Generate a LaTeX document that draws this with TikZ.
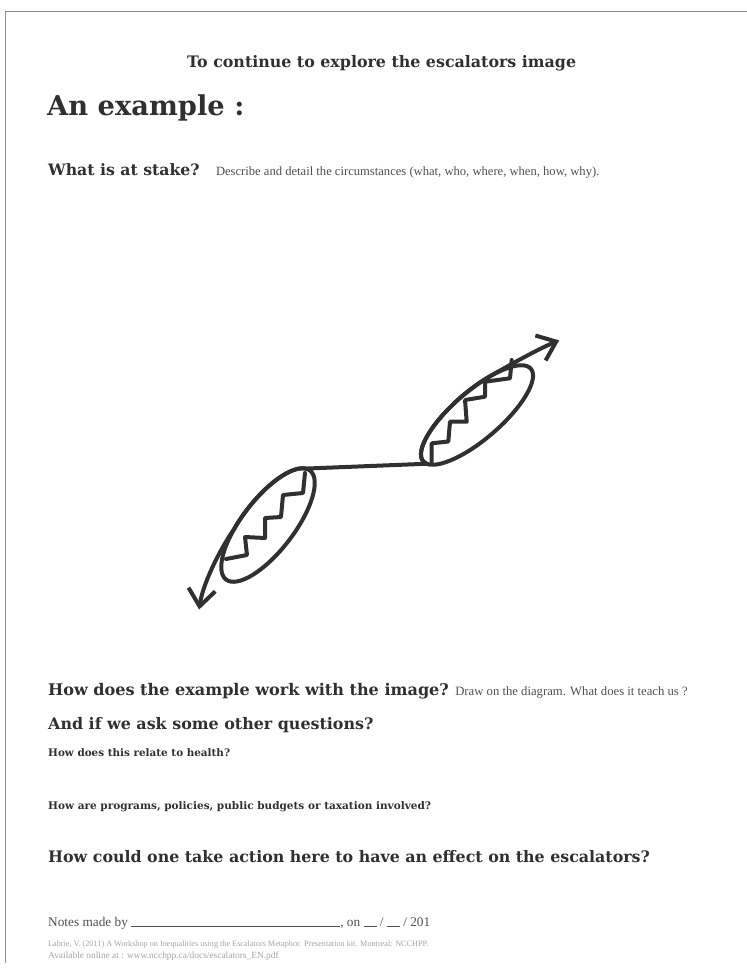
\documentclass[tikz,border=0pt]{standalone}
\usepackage{fontspec}
\setmainfont{DejaVu Serif}
\newfontfamily\lightfont{Liberation Serif}
\usepackage{tikz}
\usetikzlibrary{arrows.meta, positioning}
\definecolor{inkgray}{RGB}{48,48,48}
\definecolor{notegray}{RGB}{80,80,80}
\definecolor{creditgray}{RGB}{165,165,165}
\definecolor{framegray}{RGB}{140,140,140}
\tikzset{
  heading/.style={anchor=base west, inner sep=0pt, text=inkgray,
    font=\bfseries\fontsize{#1}{#1}\selectfont},
  plain/.style={anchor=base west, inner sep=0pt, text=notegray,
    font=\lightfont\fontsize{#1}{#1}\selectfont},
  credit/.style={anchor=base west, inner sep=0pt, text=creditgray,
    font=\lightfont\fontsize{#1}{#1}\selectfont},
  esc/.style={line width=4pt, draw=inkgray, line cap=round, line join=round},
  escarrow/.style={esc, -{Straight Barb[length=17pt, width=27pt]}},
}
\newcommand{\blank}[1]{\rule[-0.5pt]{#1}{0.8pt}}

\begin{document}
\begin{tikzpicture}[x=1pt, y=-1pt]
  \useasboundingbox (0,0) rectangle (747,975);
  \fill[white] (0,0) rectangle (747,975);
  % page frame
  \draw[framegray, line width=1pt] (5,963) |- (747,11);

  % --- textos superiores ---
  \node (title)   [heading=15.85] at (187,67)  {To continue to explore the escalators image};
  \node (example) [heading=27.3]  at (47,115)  {An example :};
  \node (stake)   [heading=15.7]  at (48,175)  {What is at stake?};
  \node (describe)[plain=12.6, base right=16pt of stake]
        {Describe and detail the circumstances (what, who, where, when, how, why).};

  % --- escalera de subida ---
  \begin{scope}[shift={(477,415)}, rotate=40.7]
    \draw[esc] (0,0) ellipse [x radius=71, y radius=24];
    \coordinate (upstart) at (170:71 and 24);
    \draw[escarrow] (upstart) arc[start angle=170, end angle=300, x radius=71, y radius=24]
      .. controls (58,-16.5) and (90,-10) .. (111,-3);
  \end{scope}
  \draw[esc] (431.7,461.7) -- (431.7,443.3) -- (448.3,441.5) -- (450,421.7) -- (466.7,421.7)
    -- (465,400) -- (485,396.7) -- (485,381.7) -- (510,378.3) -- (511.7,360);

  % --- escalera de bajada ---
  \begin{scope}[shift={(268,525)}, rotate=52.4]
    \draw[esc] (0,0) ellipse [x radius=68.8, y radius=26];
    \coordinate (lowstart) at (350:68.8 and 26);
    \draw[escarrow] (lowstart) arc[start angle=350, end angle=250, x radius=68.8, y radius=26]
      .. controls (-52,-23) and (-88,-15) .. (-109,-3);
  \end{scope}
  \draw[esc] (226,559) -- (247,555) -- (245,537) -- (265,538) -- (265,518) -- (281,517)
    -- (283,495) -- (303,493) -- (305,473);

  % tramo horizontal entre ambas
  \draw[esc] (lowstart) -- (upstart);

  % --- preguntas ---
  \node (work)    [heading=16.05] at (48,695) {How does the example work with the image?};
  \node (drawon)  [plain=12.7, base right=6pt of work] {Draw on the diagram. What does it teach us ?};
  \node (other)   [heading=15.9]  at (48,729) {And if we ask some other questions?};
  \node (health)  [heading=10.4]  at (48,756) {How does this relate to health?};
  \node (programs)[heading=10.5]  at (48,809) {How are programs, policies, public budgets or taxation involved?};
  \node (action)  [heading=15.84] at (48,862) {How could one take action here to have an effect on the escalators?};

  % --- pie ---
  \node (notes)   [plain=13.3] at (48,926)
        {Notes made by \blank{209pt}, on \blank{13pt} / \blank{13pt} / 201};
  \node (credit1) [credit=8.2] at (48,946)
        {Labrie, V. (2011) A Workshop on Inequalities using the Escalators Metaphor. Presentation kit. Montreal: NCCHPP.};
  \node (credit2) [credit=9.4] at (48,958)
        {Available online at : www.ncchpp.ca/docs/escalators\_EN.pdf};
\end{tikzpicture}
\end{document}
